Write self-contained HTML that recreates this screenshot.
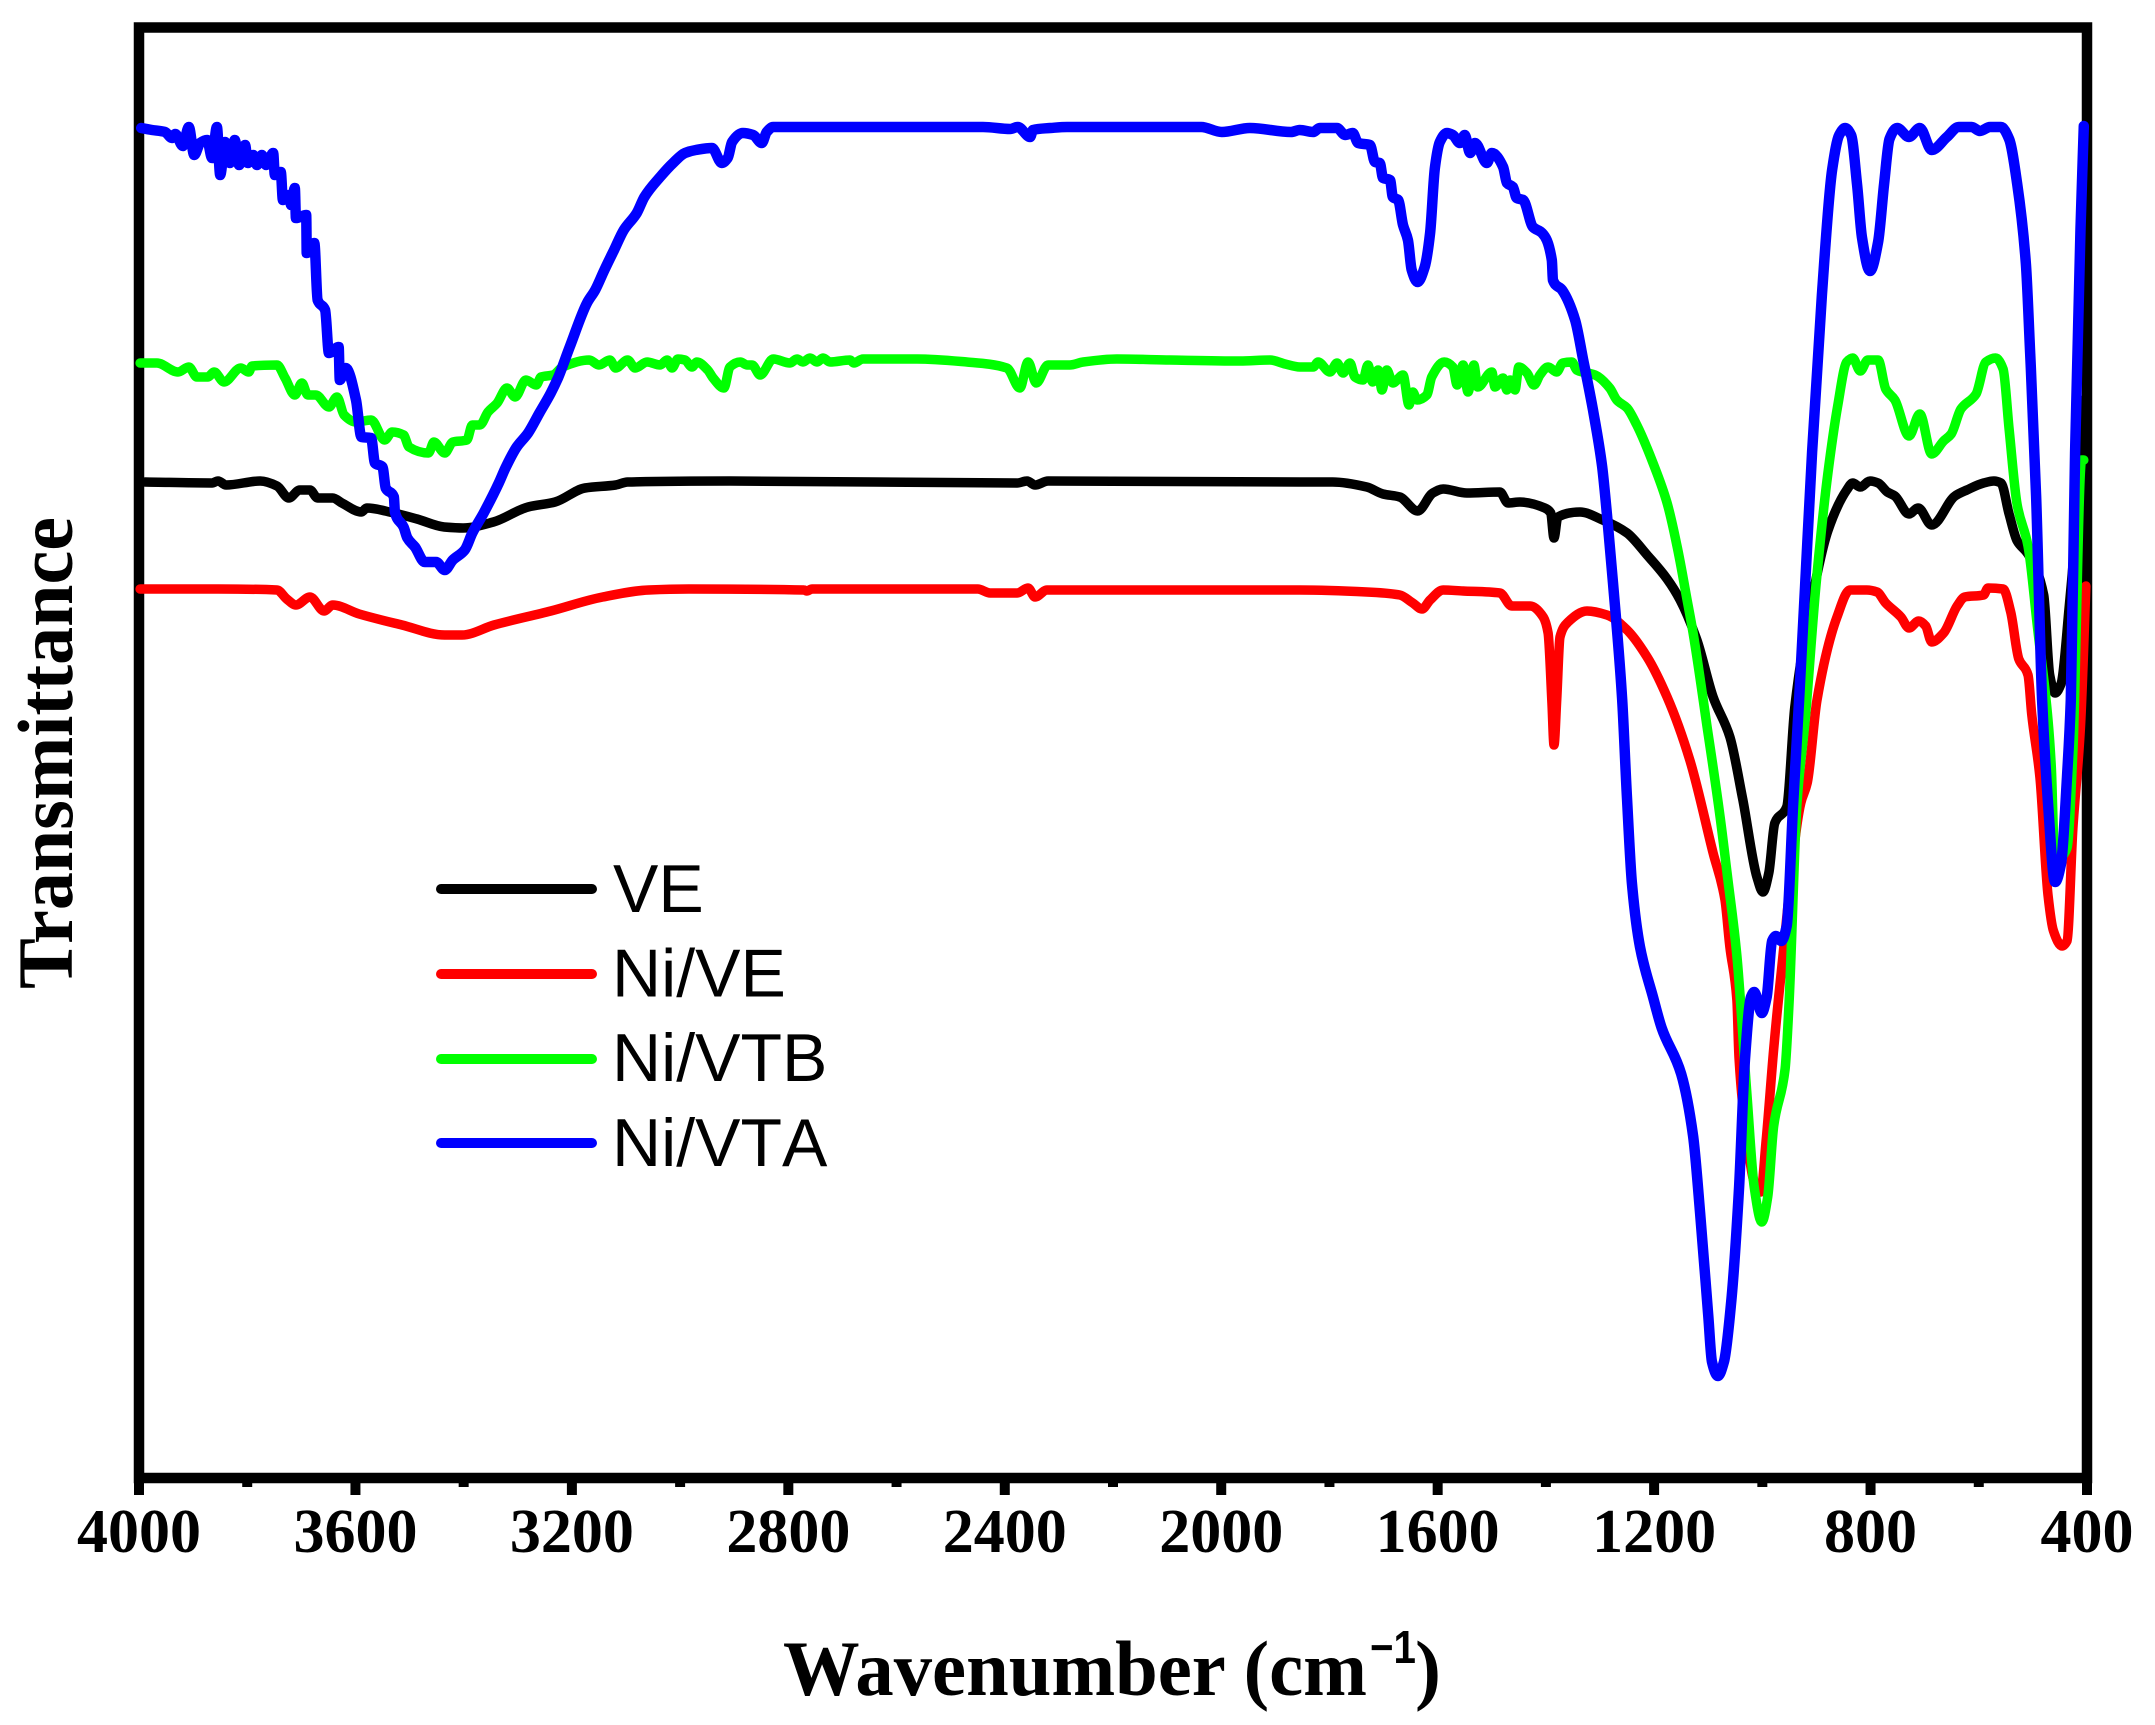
<!DOCTYPE html>
<html lang="en">
<head>
<meta charset="utf-8">
<title>FTIR spectra</title>
<style>
html,body{margin:0;padding:0;background:#fff;width:2155px;height:1725px;overflow:hidden}
svg{display:block}
text{fill:#000}
.serif{font-family:"Liberation Serif",serif;font-weight:700}
.sans{font-family:"Liberation Sans",sans-serif;font-kerning:none}
</style>
</head>
<body>
<svg id="chart" xmlns="http://www.w3.org/2000/svg" width="2155" height="1725" viewBox="0 0 2155 1725">
  <rect x="0" y="0" width="2155" height="1725" fill="#fff"/>
  <g id="ticks"></g>
  <g id="frame"></g>
  <g id="series"></g>
  <g>
    <line x1="441" y1="889" x2="592" y2="889" stroke="#000" stroke-width="10" stroke-linecap="round"/>
    <text class="sans" x="613" y="912" font-size="68">VE</text>
    <line x1="441" y1="974" x2="592" y2="974" stroke="#f00" stroke-width="10" stroke-linecap="round"/>
    <text class="sans" x="612" y="996.5" font-size="68">Ni/VE</text>
    <line x1="441" y1="1059" x2="592" y2="1059" stroke="#0f0" stroke-width="10" stroke-linecap="round"/>
    <text class="sans" x="612" y="1081" font-size="68">Ni/VTB</text>
    <line x1="441" y1="1143" x2="592" y2="1143" stroke="#00f" stroke-width="10" stroke-linecap="round"/>
    <text class="sans" x="612" y="1166" font-size="68">Ni/VTA</text>
  </g>
  <text class="serif" transform="translate(72,989) rotate(-90)" x="0" y="0" font-size="78" textLength="472" lengthAdjust="spacingAndGlyphs">Transmittance</text>
  <text class="serif" x="783" y="1695" font-size="78" textLength="584" lengthAdjust="spacingAndGlyphs">Wavenumber (cm</text>
  <text class="sans" x="1370" y="1663" font-size="46" font-weight="700" textLength="46" lengthAdjust="spacingAndGlyphs">−1</text>
  <text class="serif" x="1415" y="1695" font-size="78">)</text>
</svg>
<script>
const tickMajor = [4000, 3600, 3200, 2800, 2400, 2000, 1600, 1200, 800, 400];
const tickMinor = [3800, 3400, 3000, 2600, 2200, 1800, 1400, 1000, 600];
const tickLabels = ["4000", "3600", "3200", "2800", "2400", "2000", "1600", "1200", "800", "400"];

const veWave = [3989,3865,3854,3839,3776,3745,3723,3703,3684,3670,3642,3625,3589,3579,3529,3486,3436,3401,3345,3281,3231,3176,3119,3097,2908,2377,2359,2344,2320,1855,1794,1731,1701,1670,1637,1609,1590,1546,1485,1470,1448,1402,1391,1385,1378,1337,1295,1250,1213,1176,1152,1121,1091,1060,1036,1010,999,988,977,955,940,912,879,844,833,819,801,786,769,755,729,712,687,644,622,591,572,559,544,529,509,480,469,459,448,433,416,406];
const veT = [99.6,99.5,99.7,99.3,99.7,99.2,98.0,98.8,98.8,98.0,98.0,97.5,96.6,97.0,96.5,95.9,95.1,95.0,95.6,97.1,97.6,99.0,99.3,99.6,99.7,99.5,99.7,99.3,99.7,99.6,99.6,99.1,98.4,98.1,96.7,98.5,98.9,98.5,98.6,97.5,97.6,97.0,96.5,94.0,96.1,96.6,95.8,94.5,92.3,89.9,87.8,83.8,78.1,74.1,67.8,60.1,58.6,60.5,65.5,67.1,77.1,86.8,94.7,98.8,99.5,99.1,99.7,99.5,98.6,98.2,96.4,97.0,95.3,98.2,98.8,99.5,99.7,99.5,96.4,93.7,92.4,88.3,80.3,78.5,79.4,87.0,98.2,107.8];

const niVeWave = [3998,3854,3745,3727,3710,3684,3658,3642,3593,3514,3435,3403,3344,3239,3143,3058,2984,2771,2766,2756,2450,2427,2377,2357,2344,2322,1855,1731,1670,1646,1629,1614,1590,1553,1485,1463,1429,1405,1396,1389,1385,1380,1374,1359,1324,1287,1250,1213,1176,1134,1091,1069,1060,1047,1043,1029,1015,1003,993,979,965,929,917,899,862,838,807,788,772,744,729,711,698,687,665,640,626,591,583,555,541,526,509,502,487,472,462,446,437,426,412,402];
const niVeT = [88.9,88.9,88.8,87.9,87.3,88.1,86.7,87.3,86.4,85.3,84.3,84.3,85.3,86.7,88.1,88.8,88.9,88.8,88.7,88.9,88.9,88.5,88.5,89.0,88.1,88.8,88.8,88.6,88.3,87.5,86.9,87.8,88.8,88.7,88.5,87.2,87.2,86.1,84.5,77.8,73.3,77.8,84.1,85.6,86.7,86.3,84.8,82.1,78.1,71.8,62.5,57.8,53.1,47.8,41.9,34.2,29.6,28.6,33.7,42.9,50.6,67.5,69.5,77.8,86.1,88.8,88.8,88.6,87.5,86.1,85.0,85.7,85.2,83.6,84.5,87.2,88.1,88.3,89.0,88.9,86.6,81.9,80.3,76.3,70.1,58.3,54.7,53.2,53.7,65.0,75.2,89.2];

const niVtbWave = [3998,3967,3928,3908,3893,3873,3861,3843,3812,3797,3791,3745,3730,3712,3699,3688,3673,3649,3634,3621,3599,3571,3546,3532,3511,3501,3465,3455,3435,3420,3394,3384,3370,3355,3338,3320,3305,3285,3266,3257,3235,3217,3168,3150,3130,3119,3097,3083,3061,3037,3024,3015,3004,2991,2978,2969,2949,2939,2919,2908,2889,2876,2867,2852,2828,2797,2784,2773,2760,2747,2736,2723,2686,2679,2662,2562,2470,2396,2372,2357,2342,2320,2280,2255,2193,2095,1965,1910,1882,1855,1830,1821,1799,1786,1775,1762,1753,1738,1729,1720,1710,1703,1694,1683,1664,1653,1646,1638,1620,1611,1588,1572,1564,1553,1544,1533,1526,1500,1494,1479,1472,1466,1457,1450,1435,1422,1411,1396,1380,1369,1352,1343,1309,1282,1269,1250,1232,1202,1176,1158,1139,1128,1102,1078,1065,1047,1029,1015,1001,990,979,958,951,936,921,901,879,861,844,833,819,805,786,772,755,729,709,687,665,651,633,605,587,569,555,544,529,509,491,472,466,459,448,437,426,410,406];
const niVtbT = [111.5,111.5,110.6,111.1,110.1,110.1,110.6,109.6,111.0,110.6,111.2,111.3,110.0,108.3,109.5,108.3,108.3,107.1,108.1,106.3,105.6,105.8,103.8,104.6,104.3,103.1,102.5,103.6,102.5,103.6,103.8,105.3,105.3,106.6,107.5,109.0,108.1,109.8,109.3,110.1,110.3,111.1,111.8,111.3,111.8,111.0,111.8,111.0,111.6,111.3,111.8,111.0,111.9,111.8,111.1,111.6,110.8,110.0,109.0,111.1,111.6,111.3,111.3,110.3,111.9,111.5,111.9,111.6,112.0,111.6,112.0,111.6,111.8,111.5,111.9,111.9,111.6,111.0,109.0,111.6,109.5,111.3,111.3,111.6,111.9,111.8,111.7,111.8,111.4,111.1,111.1,111.6,110.6,111.5,110.5,111.5,110.1,109.8,111.3,109.6,110.8,108.8,110.8,109.5,110.3,107.3,108.6,107.8,108.3,110.1,111.6,111.1,109.3,111.3,108.6,111.3,109.1,110.6,109.1,110.0,108.8,109.8,108.8,111.1,110.5,109.3,110.3,111.1,110.6,111.5,111.6,110.8,110.3,109.0,107.8,107.0,105.3,101.5,97.5,93.3,87.8,84.5,75.1,66.1,60.4,52.2,38.8,29.1,25.6,28.1,35.2,40.9,47.0,67.5,75.8,89.2,100.4,107.1,111.6,112.0,110.7,111.8,111.8,108.9,107.8,104.2,106.4,102.4,103.7,104.4,106.9,108.4,111.6,112.0,110.9,104.9,97.3,93.2,84.8,75.8,71.1,61.0,62.0,63.0,72.7,101.8,101.8];

const niVtaWave = [3996,3976,3952,3939,3933,3919,3908,3898,3887,3874,3865,3856,3850,3841,3832,3823,3815,3804,3799,3789,3782,3773,3765,3752,3749,3738,3734,3723,3719,3712,3710,3691,3690,3676,3670,3656,3649,3631,3629,3618,3599,3589,3571,3564,3550,3544,3529,3527,3511,3504,3490,3472,3451,3435,3420,3398,3384,3363,3335,3322,3302,3281,3260,3239,3225,3204,3172,3157,3140,3122,3104,3080,3066,3037,3013,2991,2971,2941,2923,2912,2904,2884,2865,2849,2840,2828,2440,2390,2376,2353,2348,2316,2285,2037,1999,1947,1871,1855,1830,1818,1786,1771,1757,1747,1725,1716,1707,1701,1688,1683,1673,1664,1655,1648,1637,1624,1614,1605,1596,1583,1572,1559,1550,1540,1531,1509,1500,1479,1472,1461,1454,1442,1424,1407,1389,1387,1370,1346,1331,1313,1296,1285,1276,1259,1250,1241,1226,1202,1186,1150,1128,1115,1100,1093,1082,1071,1058,1043,1032,1021,1015,1001,992,982,975,965,955,943,932,921,908,890,871,858,847,836,825,816,801,786,775,765,751,729,709,687,659,637,613,598,579,559,544,529,513,505,494,483,472,459,448,437,430,422,412,406];
const niVtaT = [135.0,134.8,134.6,134.0,134.4,133.2,135.1,132.3,133.5,133.8,132.0,135.1,130.3,133.6,131.5,133.8,131.3,133.3,131.5,132.3,131.3,132.3,131.3,132.5,130.3,130.6,127.8,128.3,127.3,129.0,126.0,126.3,122.5,123.5,117.8,116.8,112.5,113.1,109.8,111.0,107.8,104.1,104.0,101.5,101.1,99.0,98.1,96.6,95.1,94.0,93.1,91.6,91.6,90.8,91.8,92.8,94.5,96.5,99.5,101.1,103.1,104.5,106.5,108.5,110.1,113.1,117.5,118.8,120.8,122.8,124.8,126.5,128.1,130.1,131.5,132.5,132.8,133.0,131.5,132.0,133.6,134.5,134.3,133.5,134.6,135.1,135.1,134.9,135.1,134.1,134.8,135.0,135.1,135.1,134.6,135.0,134.6,134.8,134.6,135.0,135.0,134.3,134.5,133.5,133.3,131.6,131.5,130.0,129.8,128.1,127.8,125.3,123.8,120.8,119.6,121.1,124.5,131.1,133.6,134.5,134.3,133.5,134.3,132.5,133.5,131.5,132.5,131.1,129.5,129.1,128.0,127.8,125.1,124.5,121.8,119.8,118.8,115.8,111.8,106.8,101.1,95.1,89.5,77.8,67.8,59.5,53.1,48.1,45.0,40.4,34.2,26.5,16.3,11.6,10.2,11.6,17.3,29.1,41.9,48.1,48.6,46.5,48.1,53.7,54.2,53.7,55.2,67.5,77.8,89.2,102.6,118.3,130.8,134.3,135.0,134.3,129.4,124.1,120.7,123.6,129.4,133.9,135.0,134.1,135.0,132.8,134.1,135.1,135.1,134.7,135.1,135.1,133.9,129.4,121.4,112.4,98.2,77.8,67.5,59.6,61.4,70.1,77.8,102.6,124.9,135.2];

const SVGNS = "http://www.w3.org/2000/svg";
const plotLeft = 139, plotRight = 2087, plotTop = 27.5, plotBottom = 1478;
const waveMax = 4000, waveMin = 400;
const tMin = 0, tMax = 145.05;

function xScale(w) { return plotLeft + (waveMax - w) / (waveMax - waveMin) * (plotRight - plotLeft); }
function yScale(t) { return plotBottom - (t - tMin) / (tMax - tMin) * (plotBottom - plotTop); }

// Monotone cubic path through every reading, so peaks stay at their values without overshoot.
function seriesPath(waves, values) {
  const xs = waves.map(xScale);
  const ys = values.map(yScale);
  const n = xs.length;
  const seg = [];
  for (let i = 0; i < n - 1; i++) seg.push((ys[i + 1] - ys[i]) / (xs[i + 1] - xs[i]));
  const m = new Array(n).fill(0);
  m[0] = seg[0];
  m[n - 1] = seg[n - 2];
  for (let i = 1; i < n - 1; i++) {
    if (seg[i - 1] * seg[i] > 0) {
      const h0 = xs[i] - xs[i - 1], h1 = xs[i + 1] - xs[i];
      m[i] = 3 * (h0 + h1) / ((2 * h1 + h0) / seg[i - 1] + (h1 + 2 * h0) / seg[i]);
    }
  }
  let d = "M" + xs[0].toFixed(1) + " " + ys[0].toFixed(1);
  for (let i = 0; i < n - 1; i++) {
    const h = (xs[i + 1] - xs[i]) / 3;
    d += "C" + (xs[i] + h).toFixed(1) + " " + (ys[i] + m[i] * h).toFixed(1) + " " +
         (xs[i + 1] - h).toFixed(1) + " " + (ys[i + 1] - m[i + 1] * h).toFixed(1) + " " +
         xs[i + 1].toFixed(1) + " " + ys[i + 1].toFixed(1);
  }
  return d;
}

const tickGroup = document.getElementById("ticks");
tickMajor.forEach(function (w, i) {
  const tick = document.createElementNS(SVGNS, "line");
  
  
  tick.setAttribute("x1", xScale(w));
  tick.setAttribute("x2", xScale(w));
  tick.setAttribute("y1", plotBottom);
  tick.setAttribute("y2", 1495);
  tick.setAttribute("stroke", "#000");
  tick.setAttribute("stroke-width", "10");
  tickGroup.appendChild(tick);
  const label = document.createElementNS(SVGNS, "text");
  
  
  label.setAttribute("class", "serif");
  label.setAttribute("x", xScale(w));
  label.setAttribute("y", 1552);
  label.setAttribute("font-size", "62");
  label.setAttribute("text-anchor", "middle");
  label.textContent = tickLabels[i];
  tickGroup.appendChild(label);
});
tickMinor.forEach(function (w) {
  const tick = document.createElementNS(SVGNS, "line");
  
  
  tick.setAttribute("x1", xScale(w));
  tick.setAttribute("x2", xScale(w));
  tick.setAttribute("y1", plotBottom);
  tick.setAttribute("y2", 1487);
  tick.setAttribute("stroke", "#000");
  tick.setAttribute("stroke-width", "10");
  tickGroup.appendChild(tick);
});

const frameRect = document.createElementNS(SVGNS, "rect");


frameRect.setAttribute("x", plotLeft);
frameRect.setAttribute("y", plotTop);
frameRect.setAttribute("width", plotRight - plotLeft);
frameRect.setAttribute("height", plotBottom - plotTop);
frameRect.setAttribute("fill", "none");
frameRect.setAttribute("stroke", "#000");
frameRect.setAttribute("stroke-width", "10.5");
document.getElementById("frame").appendChild(frameRect);

const seriesGroup = document.getElementById("series");

const veLine = document.createElementNS(SVGNS, "path");


veLine.setAttribute("d", seriesPath(veWave, veT));
veLine.setAttribute("stroke", "#000");
veLine.setAttribute("stroke-width", "9.5");
seriesGroup.appendChild(veLine);

const niVeLine = document.createElementNS(SVGNS, "path");


niVeLine.setAttribute("d", seriesPath(niVeWave, niVeT));
niVeLine.setAttribute("stroke", "#f00");
niVeLine.setAttribute("stroke-width", "9.5");
seriesGroup.appendChild(niVeLine);

const niVtbLine = document.createElementNS(SVGNS, "path");


niVtbLine.setAttribute("d", seriesPath(niVtbWave, niVtbT));
niVtbLine.setAttribute("stroke", "#0f0");
niVtbLine.setAttribute("stroke-width", "9.5");
seriesGroup.appendChild(niVtbLine);

const niVtaLine = document.createElementNS(SVGNS, "path");


niVtaLine.setAttribute("d", seriesPath(niVtaWave, niVtaT));
niVtaLine.setAttribute("stroke", "#00f");
niVtaLine.setAttribute("stroke-width", "10.5");
seriesGroup.appendChild(niVtaLine);

[veLine, niVeLine, niVtbLine, niVtaLine].forEach(function (line) {
  line.setAttribute("fill", "none");
  line.setAttribute("stroke-linejoin", "round");
  line.setAttribute("stroke-linecap", "round");
});
</script>
</body>
</html>
